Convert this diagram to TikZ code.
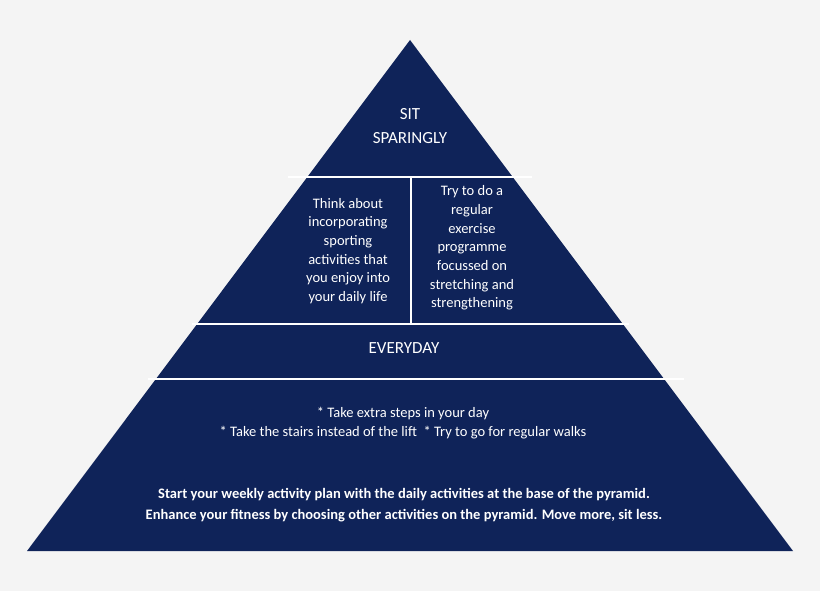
\documentclass[tikz,border=0pt]{standalone}
\usepackage{fontspec}
\setmainfont{Carlito}
\definecolor{navy}{HTML}{0F2359}
\definecolor{bg}{HTML}{F4F4F4}
\begin{document}
\begin{tikzpicture}[x=1pt,y=-1pt,
  sep/.style={white,line width=2.2pt},
  txt/.style={text=white,align=center,font=\fontsize{14.5}{18.7}\selectfont},
  big/.style={text=white,align=center,font=\fontsize{17}{24}\selectfont}]
\fill[bg] (0,0) rectangle (820,591);
\useasboundingbox (0,0) rectangle (820,591);
\fill[navy] (410,40) -- (793,551) -- (27,551) -- cycle;
\coordinate (l1) at (288,177); \coordinate (r1) at (532,177);
\coordinate (l2) at (192,324); \coordinate (r2) at (629,324);
\coordinate (l3) at (148,379); \coordinate (r3) at (684,379);
\coordinate (v1) at (411,177); \coordinate (v2) at (411,324);
\draw[sep] (l1) -- (r1);
\draw[sep] (l2) -- (r2);
\draw[sep] (l3) -- (r3);
\draw[sep] (v1) -- (v2);
\node[big] (sit) at (410,126) {SIT\\SPARINGLY};
\node[txt] (think) at (348,251) {Think about\\incorporating\\sporting\\activities that\\you enjoy into\\your daily life};
\node[txt] (try) at (472,248) {Try to do a\\regular\\exercise\\programme\\focussed on\\stretching and\\strengthening};
\node[big] (every) at (404,348) {EVERYDAY};
\node[txt] (steps) at (403,423) {* Take extra steps in your day\\* Take the stairs instead of the lift\ \ * Try to go for regular walks};
\node[txt,font=\fontsize{14.5}{20.5}\selectfont\bfseries] (start) at (404,505) {Start your weekly activity plan with the daily activities at the base of the pyramid.\\Enhance your fitness by choosing other activities on the pyramid. Move more, sit less.};
\end{tikzpicture}
\end{document}
